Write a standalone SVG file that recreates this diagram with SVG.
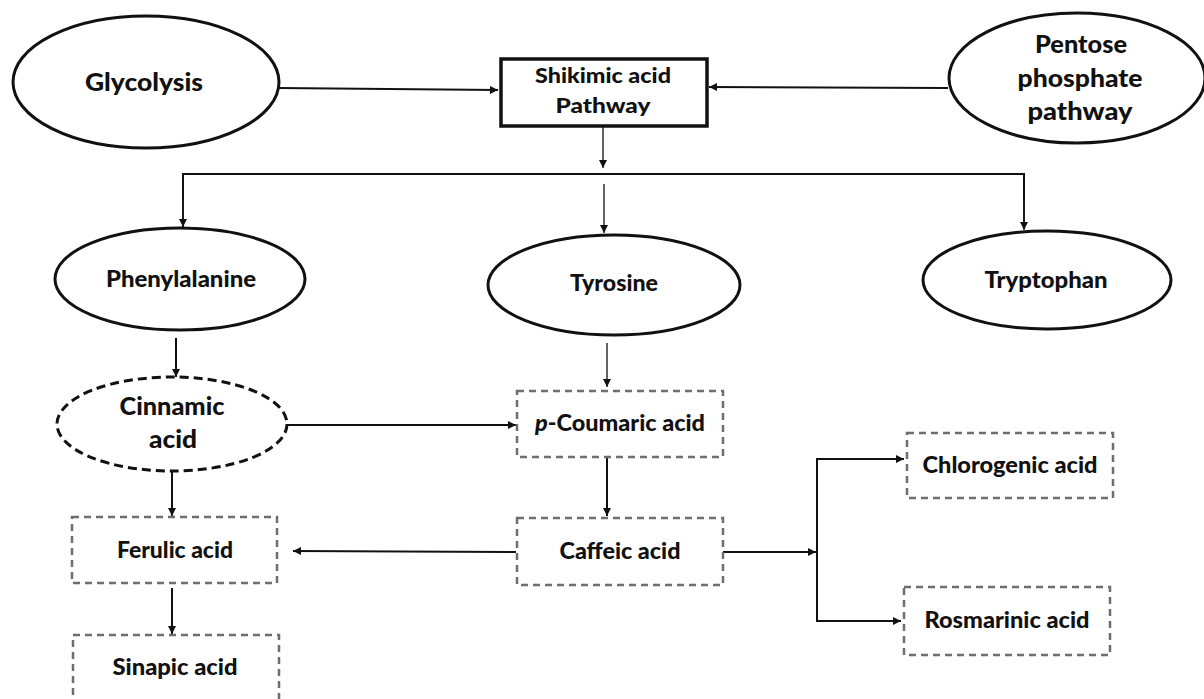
<svg xmlns="http://www.w3.org/2000/svg" width="1204" height="699" viewBox="0 0 1204 699">
  <defs>
    <marker id="arrow" viewBox="0 0 10 10" refX="10" refY="5" markerWidth="9" markerHeight="8" markerUnits="userSpaceOnUse" orient="auto">
      <path d="M0,0 L10,5 L0,10 z" fill="#111"/>
    </marker>
    <style>
      .lbl { font-family: Lato, "Open Sans", "Liberation Sans", sans-serif; font-weight: 900; fill: #111; text-anchor: middle; }
      .big { font-size: 25px; }
      .mid { font-size: 22.5px; }
      .sm { font-size: 21px; }
      .solid { fill: #fff; stroke: #111; stroke-width: 3; }
      .dashE { fill: #fff; stroke: #111; stroke-width: 3; stroke-dasharray: 9 5; }
      .dashR { fill: #fff; stroke: #6e6e6e; stroke-width: 2.5; stroke-dasharray: 7 5; }
      .conn { fill: none; stroke: #111; stroke-width: 2; }
      .thin { fill: none; stroke: #222; stroke-width: 1.4; }
    </style>
  </defs>

  <rect width="1204" height="699" fill="#fff"/>

  <!-- connectors -->
  <g id="connectors">
    <line class="conn" x1="278" y1="88" x2="498" y2="90" marker-end="url(#arrow)"/>
    <line class="conn" x1="948" y1="88" x2="709" y2="87" marker-end="url(#arrow)"/>
    <line class="thin" x1="603" y1="127" x2="603" y2="168" marker-end="url(#arrow)"/>
    <polyline class="conn" points="183,227 183,174 1024,174 1024,229" stroke="#333"/>
    <line class="thin" x1="183" y1="200" x2="183" y2="227" marker-end="url(#arrow)"/>
    <line class="thin" x1="1024" y1="200" x2="1024" y2="230" marker-end="url(#arrow)"/>
    <line class="thin" x1="604" y1="184" x2="604" y2="233" marker-end="url(#arrow)"/>
    <line class="conn" x1="176" y1="338" x2="176" y2="377" marker-end="url(#arrow)"/>
    <line class="thin" x1="607" y1="343" x2="607" y2="387" marker-end="url(#arrow)"/>
    <line class="conn" x1="287" y1="425" x2="516" y2="425" marker-end="url(#arrow)"/>
    <line class="conn" x1="172" y1="472" x2="172" y2="516" marker-end="url(#arrow)"/>
    <line class="conn" x1="607" y1="458" x2="607" y2="516" marker-end="url(#arrow)"/>
    <line class="conn" x1="516" y1="552" x2="293" y2="551" marker-end="url(#arrow)"/>
    <line class="conn" x1="172" y1="588" x2="172" y2="634" marker-end="url(#arrow)"/>
    <line class="conn" x1="723" y1="552" x2="816" y2="552" marker-end="url(#arrow)"/>
    <polyline class="conn" points="903,459 817,459 817,621 900,621"/>
    <line class="conn" x1="880" y1="459" x2="904" y2="459" marker-end="url(#arrow)"/>
    <line class="conn" x1="880" y1="621" x2="901" y2="621" marker-end="url(#arrow)"/>
  </g>

  <g id="glycolysis">
    <ellipse class="solid" cx="146" cy="82" rx="133" ry="66"/>
    <text class="lbl big" x="144" y="91" textLength="118" lengthAdjust="spacingAndGlyphs">Glycolysis</text>
  </g>

  <g id="shikimic">
    <rect x="501" y="59" width="206" height="67" fill="#fff" stroke="#111" stroke-width="3.5"/>
    <text class="lbl sm" x="603" y="83" textLength="136" lengthAdjust="spacingAndGlyphs">Shikimic acid</text>
    <text class="lbl sm" x="603" y="113" textLength="95" lengthAdjust="spacingAndGlyphs">Pathway</text>
  </g>

  <g id="pentose">
    <ellipse class="solid" cx="1077" cy="78" rx="128" ry="65"/>
    <text class="lbl big" x="1081" y="53" textLength="92" lengthAdjust="spacingAndGlyphs">Pentose</text>
    <text class="lbl big" x="1080" y="87" textLength="125" lengthAdjust="spacingAndGlyphs">phosphate</text>
    <text class="lbl big" x="1080" y="120" textLength="105" lengthAdjust="spacingAndGlyphs">pathway</text>
  </g>

  <g id="phenylalanine">
    <ellipse class="solid" cx="180" cy="279" rx="125" ry="51"/>
    <text class="lbl mid" x="181" y="287" textLength="150" lengthAdjust="spacingAndGlyphs">Phenylalanine</text>
  </g>

  <g id="tyrosine">
    <ellipse class="solid" cx="614" cy="285" rx="126" ry="50"/>
    <text class="lbl mid" x="614" y="291" textLength="88" lengthAdjust="spacingAndGlyphs">Tyrosine</text>
  </g>

  <g id="tryptophan">
    <ellipse class="solid" cx="1047" cy="280" rx="124" ry="49"/>
    <text class="lbl mid" x="1046" y="288" textLength="123" lengthAdjust="spacingAndGlyphs">Tryptophan</text>
  </g>

  <g id="cinnamic">
    <ellipse class="dashE" cx="172" cy="424" rx="115" ry="47"/>
    <text class="lbl big" x="172" y="415" textLength="105" lengthAdjust="spacingAndGlyphs">Cinnamic</text>
    <text class="lbl big" x="173" y="448" textLength="48" lengthAdjust="spacingAndGlyphs">acid</text>
  </g>

  <g id="coumaric">
    <rect class="dashR" x="517" y="391" width="206" height="66"/>
    <text class="lbl mid" x="620" y="431" textLength="170" lengthAdjust="spacingAndGlyphs"><tspan font-style="italic">p</tspan>-Coumaric acid</text>
  </g>

  <g id="chlorogenic">
    <rect class="dashR" x="907" y="433" width="206" height="65" stroke="#555"/>
    <text class="lbl mid" x="1010" y="473" textLength="175" lengthAdjust="spacingAndGlyphs">Chlorogenic acid</text>
  </g>

  <g id="ferulic">
    <rect class="dashR" x="72" y="517" width="205" height="66" stroke="#444"/>
    <text class="lbl mid" x="175" y="558" textLength="116" lengthAdjust="spacingAndGlyphs">Ferulic acid</text>
  </g>

  <g id="caffeic">
    <rect class="dashR" x="517" y="518" width="206" height="67" stroke="#444"/>
    <text class="lbl mid" x="620" y="559" textLength="121" lengthAdjust="spacingAndGlyphs">Caffeic acid</text>
  </g>

  <g id="rosmarinic">
    <rect class="dashR" x="904" y="587" width="206" height="68"/>
    <text class="lbl mid" x="1007" y="628" textLength="165" lengthAdjust="spacingAndGlyphs">Rosmarinic acid</text>
  </g>

  <g id="sinapic">
    <rect class="dashR" x="73" y="635" width="206" height="70"/>
    <text class="lbl mid" x="175" y="675" textLength="125" lengthAdjust="spacingAndGlyphs">Sinapic acid</text>
  </g>
</svg>
